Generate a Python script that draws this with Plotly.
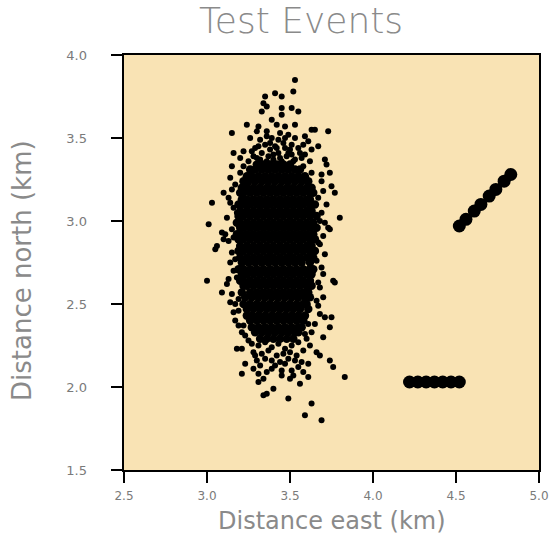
import plotly.graph_objects as go

# ---- Dense core of the event cloud, read row by row (north km -> east km values)
core_north = [3.34, 3.31, 3.27, 3.24, 3.20, 3.17, 3.13, 3.10, 3.06, 3.03, 2.99, 2.96,
              2.92, 2.89, 2.85, 2.82, 2.78, 2.75, 2.71, 2.68, 2.64, 2.61, 2.57, 2.54,
              2.50, 2.47, 2.43, 2.40, 2.36, 2.33, 2.29]
core_east = [
    [3.30, 3.34, 3.38, 3.42, 3.46, 3.50],
    [3.26, 3.29, 3.33, 3.37, 3.41, 3.45, 3.49, 3.53, 3.56],
    [3.24, 3.27, 3.31, 3.35, 3.39, 3.43, 3.47, 3.51, 3.55, 3.59],
    [3.22, 3.25, 3.29, 3.33, 3.37, 3.41, 3.45, 3.49, 3.53, 3.57, 3.61],
    [3.21, 3.24, 3.28, 3.32, 3.36, 3.40, 3.44, 3.48, 3.52, 3.56, 3.60, 3.63],
    [3.20, 3.22, 3.26, 3.30, 3.34, 3.38, 3.42, 3.46, 3.50, 3.54, 3.58, 3.62, 3.64],
    [3.21, 3.24, 3.28, 3.32, 3.36, 3.40, 3.44, 3.48, 3.52, 3.56, 3.60, 3.62],
    [3.19, 3.22, 3.26, 3.30, 3.34, 3.38, 3.42, 3.46, 3.50, 3.54, 3.58, 3.62, 3.65],
    [3.20, 3.24, 3.28, 3.32, 3.36, 3.40, 3.44, 3.48, 3.52, 3.56, 3.60, 3.63],
    [3.19, 3.22, 3.26, 3.30, 3.34, 3.38, 3.42, 3.46, 3.50, 3.54, 3.58, 3.62, 3.66],
    [3.18, 3.20, 3.24, 3.28, 3.32, 3.36, 3.40, 3.44, 3.48, 3.52, 3.56, 3.60, 3.64],
    [3.20, 3.22, 3.26, 3.30, 3.34, 3.38, 3.42, 3.46, 3.50, 3.54, 3.58, 3.62, 3.66],
    [3.18, 3.20, 3.24, 3.28, 3.32, 3.36, 3.40, 3.44, 3.48, 3.52, 3.56, 3.60, 3.64],
    [3.19, 3.22, 3.26, 3.30, 3.34, 3.38, 3.42, 3.46, 3.50, 3.54, 3.58, 3.62, 3.65],
    [3.20, 3.24, 3.28, 3.32, 3.36, 3.40, 3.44, 3.48, 3.52, 3.56, 3.60, 3.63],
    [3.19, 3.22, 3.26, 3.30, 3.34, 3.38, 3.42, 3.46, 3.50, 3.54, 3.58, 3.62, 3.65],
    [3.20, 3.24, 3.28, 3.32, 3.36, 3.40, 3.44, 3.48, 3.52, 3.56, 3.60, 3.64],
    [3.21, 3.25, 3.29, 3.33, 3.37, 3.41, 3.45, 3.49, 3.53, 3.57, 3.62],
    [3.19, 3.22, 3.26, 3.30, 3.34, 3.38, 3.42, 3.46, 3.50, 3.54, 3.58, 3.62, 3.64],
    [3.21, 3.24, 3.28, 3.32, 3.36, 3.40, 3.44, 3.48, 3.52, 3.56, 3.60, 3.63],
    [3.20, 3.22, 3.26, 3.30, 3.34, 3.38, 3.42, 3.46, 3.50, 3.54, 3.58, 3.62],
    [3.22, 3.24, 3.28, 3.32, 3.36, 3.40, 3.44, 3.48, 3.52, 3.56, 3.60, 3.63],
    [3.21, 3.26, 3.30, 3.34, 3.38, 3.42, 3.46, 3.50, 3.54, 3.58, 3.61],
    [3.23, 3.27, 3.31, 3.35, 3.39, 3.43, 3.47, 3.51, 3.55, 3.59, 3.62],
    [3.22, 3.26, 3.30, 3.34, 3.38, 3.42, 3.46, 3.50, 3.54, 3.58, 3.60],
    [3.24, 3.28, 3.32, 3.36, 3.40, 3.44, 3.48, 3.52, 3.56, 3.61],
    [3.24, 3.27, 3.31, 3.35, 3.39, 3.43, 3.47, 3.51, 3.55, 3.59],
    [3.26, 3.30, 3.34, 3.38, 3.42, 3.46, 3.50, 3.54, 3.58],
    [3.27, 3.31, 3.35, 3.39, 3.43, 3.47, 3.51, 3.55, 3.57],
    [3.29, 3.33, 3.37, 3.41, 3.45, 3.49, 3.53, 3.55],
    [3.32, 3.36, 3.40, 3.44, 3.48, 3.52],
]

# ---- Scattered events around the core (east km, north km)
scatter_east = [
    3.53, 3.41, 3.45, 3.52, 3.35, 3.34, 3.36, 3.45, 3.51, 3.55, 3.33, 3.45, 3.39,
    3.24, 3.31, 3.42, 3.47, 3.53, 3.15, 3.30, 3.36, 3.63, 3.65, 3.73, 3.26, 3.32,
    3.39, 3.49, 3.53, 3.59, 3.61, 3.16, 3.22, 3.29, 3.35, 3.41, 3.46, 3.55, 3.63,
    3.67, 3.33, 3.43, 3.51, 3.59, 3.20, 3.15, 3.10, 3.71, 3.74, 3.75, 3.77, 3.69,
    3.25, 3.30, 3.37, 3.40, 3.44, 3.48, 3.53, 3.57, 3.62, 3.27, 3.38, 3.50, 3.58,
    3.43, 3.36, 3.47,
    3.03, 3.01, 3.09, 3.14, 3.06, 3.80, 3.73, 3.72, 3.05, 3.00, 3.09, 3.10, 3.11,
    3.76, 3.74, 3.71, 3.13, 3.14, 3.17, 3.19, 3.77, 3.75, 3.74, 3.70,
    3.18, 3.21, 3.21, 3.31, 3.31, 3.34, 3.36, 3.40, 3.49, 3.45, 3.50, 3.56, 3.61,
    3.61, 3.74, 3.76, 3.83, 3.63, 3.59, 3.69, 3.66, 3.68, 3.39, 3.39, 3.51, 3.53,
    3.47, 3.32, 3.29,
    3.27, 3.31, 3.35, 3.39, 3.43, 3.47, 3.51, 3.55, 3.28, 3.33, 3.37, 3.42, 3.46,
    3.50, 3.54, 3.58, 3.35, 3.44, 3.49, 3.57, 3.30, 3.62, 3.25, 3.60, 3.41, 3.36,
    3.28, 3.55, 3.58, 3.45, 3.23, 3.34, 3.52,
    3.14, 3.15, 3.13, 3.16, 3.12, 3.15, 3.13, 3.15, 3.14, 3.16, 3.12, 3.15, 3.17,
    3.16, 3.19, 3.21,
    3.69, 3.70, 3.72, 3.69, 3.71, 3.70, 3.68, 3.71, 3.69, 3.70, 3.68, 3.70, 3.67,
    3.68, 3.65, 3.63,
    3.17, 3.18, 3.16, 3.17, 3.18, 3.19, 3.67, 3.68, 3.67, 3.66, 3.67, 3.66,
    3.22, 3.58, 3.20, 3.63, 3.23, 3.59, 3.22, 3.61,
    3.32, 3.36, 3.40, 3.45, 3.49, 3.52, 3.56, 3.28, 3.42, 3.47, 3.38, 3.51, 3.31,
    3.44,
]
scatter_north = [
    3.85, 3.77, 3.75, 3.78, 3.75, 3.71, 3.69, 3.68, 3.68, 3.66, 3.66, 3.64, 3.61,
    3.58, 3.57, 3.58, 3.57, 3.58, 3.53, 3.54, 3.54, 3.55, 3.55, 3.54, 3.50, 3.49,
    3.50, 3.52, 3.50, 3.51, 3.48, 3.41, 3.42, 3.44, 3.46, 3.45, 3.47, 3.44, 3.43,
    3.45, 3.41, 3.41, 3.40, 3.40, 3.38, 3.33, 3.17, 3.37, 3.29, 3.21, 3.17, 3.28,
    3.36, 3.38, 3.39, 3.37, 3.38, 3.39, 3.37, 3.38, 3.36, 3.42, 3.43, 3.43, 3.46,
    3.49, 3.51, 3.50,
    3.11, 2.98, 2.93, 3.11, 2.85, 3.02, 2.96, 3.34, 2.83, 2.64, 2.57, 2.89, 2.92,
    2.64, 2.95, 2.42, 2.65, 2.51, 2.40, 2.46, 2.63, 2.42, 2.36, 2.30,
    2.23, 2.23, 2.08, 2.03, 2.08, 1.95, 1.96, 1.99, 1.93, 2.07, 2.05, 2.02, 2.06,
    2.14, 2.16, 2.12, 2.06, 1.90, 1.83, 1.80, 2.21, 2.19, 2.11, 2.16, 2.10, 2.16,
    2.14, 2.13, 2.19,
    2.26, 2.25, 2.27, 2.24, 2.26, 2.23, 2.25, 2.27, 2.21, 2.20, 2.22, 2.19, 2.20,
    2.21, 2.19, 2.22, 2.17, 2.15, 2.17, 2.15, 2.16, 2.25, 2.28, 2.29, 2.13, 2.09,
    2.11, 2.12, 2.09, 2.10, 2.14, 2.05, 2.07,
    3.26, 3.19, 3.14, 3.08, 3.02, 2.95, 2.88, 2.81, 2.75, 2.70, 2.62, 2.56, 2.50,
    2.45, 2.37, 2.33,
    3.24, 3.18, 3.10, 3.05, 2.99, 2.91, 2.86, 2.80, 2.72, 2.68, 2.60, 2.54, 2.49,
    2.44, 2.38, 2.33,
    3.22, 3.05, 2.90, 2.77, 2.66, 2.53, 3.14, 3.00, 2.87, 2.76, 2.63, 2.52,
    3.33, 3.33, 3.29, 3.29, 2.31, 2.32, 2.37, 2.38,
    3.37, 3.36, 3.40, 3.36, 3.41, 3.36, 3.41, 3.39, 3.44, 3.44, 3.47, 3.46, 3.45,
    3.53,
]

# ---- Test events: two lines of large markers
line1_east = [4.22, 4.27, 4.32, 4.37, 4.42, 4.47, 4.52]
line1_north = [2.03, 2.03, 2.03, 2.03, 2.03, 2.03, 2.03]
line2_east = [4.52, 4.56, 4.61, 4.65, 4.70, 4.74, 4.79, 4.83]
line2_north = [2.97, 3.01, 3.06, 3.10, 3.15, 3.19, 3.24, 3.28]

xtick_vals = [2.5, 3.0, 3.5, 4.0, 4.5, 5.0]
ytick_vals = [1.5, 2.0, 2.5, 3.0, 3.5, 4.0]
x_range = [2.5, 5.0]
y_range = [1.5, 4.0]

# build flat core arrays
core_x, core_y = [], []
for n, row in zip(core_north, core_east):
    for e in row:
        core_x.append(e)
        core_y.append(n)

FONT = "DejaVu Sans"
GRAY = "#8a8a8a"
TICKGRAY = "#7a7a7a"

# page geometry (pixels)
W, H = 560, 537
ML, MR, MT, MB = 40, 21, 55, 67
PW = W - ML - MR
PLOT_LEFT = 124
x_dom0 = (PLOT_LEFT - ML) / PW

fig = go.Figure()
fig.add_trace(go.Scatter(x=core_x, y=core_y, mode="markers",
                         marker=dict(size=8.5, color="black", line=dict(width=0)),
                         showlegend=False, hoverinfo="skip"))
fig.add_trace(go.Scatter(x=scatter_east, y=scatter_north, mode="markers",
                         marker=dict(size=6, color="black", line=dict(width=0)),
                         showlegend=False, hoverinfo="skip"))
fig.add_trace(go.Scatter(x=line1_east, y=line1_north, mode="markers", yaxis="y2",
                         marker=dict(size=13, color="black", line=dict(width=0)),
                         showlegend=False))
fig.add_trace(go.Scatter(x=line2_east, y=line2_north, mode="markers",
                         marker=dict(size=13, color="black", line=dict(width=0)),
                         showlegend=False))

axis_common = dict(showgrid=False, zeroline=False, showline=True, linecolor="black",
                   linewidth=2, mirror=True, ticks="outside", ticklen=11, tickwidth=2,
                   tickcolor="black", tickformat=".1f")

fig.update_layout(
    width=W, height=H,
    margin=dict(l=ML, r=MR, t=MT, b=MB),
    paper_bgcolor="white",
    plot_bgcolor="#F9E3B4",
    title=dict(text="Test Events", x=0.5375, xanchor="center", y=0.962, yanchor="middle",
               font=dict(family=FONT, size=36, color=GRAY, weight=300)),
    xaxis=dict(range=x_range, tickvals=xtick_vals, ticklabelstandoff=3, domain=[x_dom0, 1],
               tickfont=dict(family=FONT, size=12, color=TICKGRAY), **axis_common),
    yaxis=dict(range=y_range, tickvals=ytick_vals, showticklabels=False, **axis_common),
    yaxis2=dict(range=y_range, tickvals=ytick_vals, overlaying="y", anchor="free",
                position=(87 - ML) / PW, side="left", showline=False, showgrid=False,
                zeroline=False, ticks="", tickformat=".1f",
                tickfont=dict(family=FONT, size=13, color=TICKGRAY)),
    annotations=[
        dict(text="Distance east (km)", xref="paper", yref="paper", x=(332 - ML) / PW, y=-0.122,
             xanchor="center", yanchor="middle", showarrow=False,
             font=dict(family=FONT, size=24, color=GRAY)),
        dict(text="Distance north (km)", xref="paper", yref="paper", x=(22 - ML) / PW, y=0.4795,
             xanchor="center", yanchor="middle", showarrow=False, textangle=-90,
             font=dict(family=FONT, size=26, color=GRAY)),
    ],
)

fig.write_html("out.html")
